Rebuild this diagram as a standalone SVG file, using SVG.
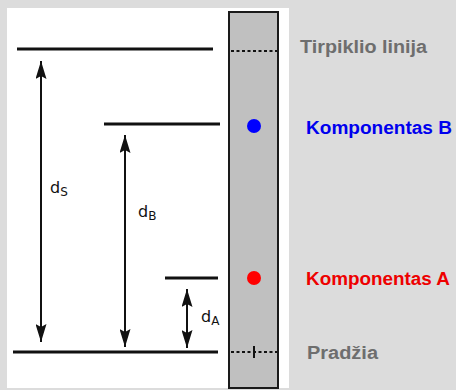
<svg xmlns="http://www.w3.org/2000/svg" width="456" height="390" viewBox="0 0 456 390">
<defs>
<marker id="ah" viewBox="0 0 18 11" refX="18" refY="5.5" markerWidth="18" markerHeight="11" markerUnits="userSpaceOnUse" orient="auto-start-reverse">
<path d="M0,0 L18,5.5 L0,11 L3,5.5 z" fill="#111"/>
</marker>
<style>
.lvl{stroke:#111;stroke-width:3;fill:none}
.arr{stroke:#111;stroke-width:2;fill:none;marker-start:url(#ah);marker-end:url(#ah)}
.dot{stroke:#111;stroke-width:2;stroke-dasharray:3 2.5;fill:none}
.lbl{font-family:"Liberation Sans",Arial,sans-serif;font-weight:bold;font-size:18px}
.d{font-family:"DejaVu Sans",Verdana,sans-serif;font-size:16px;fill:#111}
.sub{font-size:12px}
</style>
</defs>
<rect x="0" y="0" width="456" height="390" fill="#dcdcdc"/>
<rect x="7" y="8" width="282" height="380" fill="#ffffff"/>
<g id="plate">
<rect x="229" y="12" width="49" height="376" fill="#c0c0c0" stroke="#1a1a1a" stroke-width="2"/>
<line class="dot" x1="231" y1="51" x2="277" y2="51"/>
<line class="dot" x1="231" y1="352" x2="277" y2="352"/>
<line x1="254" y1="346" x2="254" y2="358" stroke="#111" stroke-width="2"/>
</g>
<g id="spotB"><circle cx="254" cy="126" r="7" fill="#0000ff"/></g>
<g id="spotA"><circle cx="254" cy="278" r="7" fill="#ff0000"/></g>
<g id="levels">
<line class="lvl" x1="17" y1="49" x2="213" y2="49"/>
<line class="lvl" x1="104" y1="124" x2="220" y2="124"/>
<line class="lvl" x1="165" y1="278" x2="218" y2="278"/>
<line class="lvl" x1="13" y1="352" x2="218" y2="352"/>
</g>
<g id="connectors">
<line class="arr" x1="41" y1="61" x2="41" y2="342"/>
<line class="arr" x1="125" y1="135" x2="125" y2="347"/>
<line class="arr" x1="187" y1="289" x2="187" y2="348"/>
</g>
<g id="dS"><text class="d" x="50" y="193">d<tspan class="sub" dy="3">S</tspan></text></g>
<g id="dB"><text class="d" x="138" y="217">d<tspan class="sub" dy="3">B</tspan></text></g>
<g id="dA"><text class="d" x="201" y="322">d<tspan class="sub" dy="3">A</tspan></text></g>
<g id="tirpiklio"><text class="lbl" x="300" y="53" fill="#6e6e6e" textLength="127" lengthAdjust="spacingAndGlyphs">Tirpiklio linija</text></g>
<g id="kompB"><text class="lbl" x="306" y="134" fill="#0000ee" textLength="146" lengthAdjust="spacingAndGlyphs">Komponentas B</text></g>
<g id="kompA"><text class="lbl" x="306" y="285" fill="#ee0000" textLength="144" lengthAdjust="spacingAndGlyphs">Komponentas A</text></g>
<g id="pradzia"><text class="lbl" x="307" y="359" fill="#6e6e6e" textLength="71" lengthAdjust="spacingAndGlyphs">Pradžia</text></g>
</svg>
